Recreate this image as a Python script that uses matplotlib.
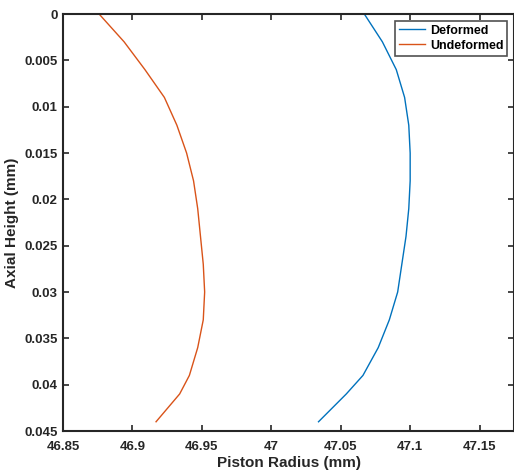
import matplotlib
matplotlib.use("Agg")
import matplotlib.pyplot as plt
from matplotlib.ticker import FuncFormatter

plt.rcParams['font.family'] = ['Liberation Sans', 'DejaVu Sans']
plt.rcParams['font.weight'] = 'bold'

# axial height (mm) and piston radius (mm)
height = [0, 0.003, 0.006, 0.009, 0.012, 0.015, 0.018, 0.021, 0.024,
          0.027, 0.030, 0.033, 0.036, 0.039, 0.041, 0.044]
deformed = [47.067, 47.080, 47.090, 47.096, 47.099, 47.100, 47.100, 47.099,
            47.097, 47.094, 47.091, 47.085, 47.077, 47.066, 47.054, 47.034]
undeformed = [46.876, 46.894, 46.909, 46.923, 46.932, 46.939, 46.944, 46.947,
              46.949, 46.951, 46.952, 46.951, 46.947, 46.941, 46.934, 46.917]

xticks = [46.85, 46.9, 46.95, 47, 47.05, 47.1, 47.15]
yticks = [0, 0.005, 0.01, 0.015, 0.02, 0.025, 0.03, 0.035, 0.04, 0.045]

fig = plt.figure(figsize=(5.14, 4.76), dpi=100)
ax = fig.add_axes([0.1226, 0.0945, 0.878, 0.876])

ax.plot(deformed, height, color='#0072BD', lw=1.0, label='Deformed')
ax.plot(undeformed, height, color='#D95319', lw=1.0, label='Undeformed')

ax.set_xlim(46.85, 47.175)
ax.set_ylim(0.045, 0)
ax.set_xticks(xticks)
ax.set_yticks(yticks)
ax.xaxis.set_major_formatter(FuncFormatter(lambda v, p: f'{v:g}'))
ax.yaxis.set_major_formatter(FuncFormatter(lambda v, p: f'{v:g}'))

ax.tick_params(direction='in', top=True, right=True, length=4, width=1.2,
               labelsize=9.5, colors='#262626')
ax.tick_params(axis='x', pad=7)
ax.tick_params(axis='y', pad=4)
for s in ax.spines.values():
    s.set_linewidth(1.5)
    s.set_color('#262626')

ax.set_xlabel('Piston Radius (mm)', fontsize=11, fontweight='bold', color='#262626', labelpad=2)
ax.set_ylabel('Axial Height (mm)', fontsize=11, fontweight='bold', color='#262626', labelpad=4)

leg = ax.legend(loc='upper right', fontsize=9, frameon=True, fancybox=False,
                handlelength=2.1, handletextpad=0.4, borderpad=0.3,
                labelspacing=0.25, borderaxespad=0.55)
leg.get_frame().set_edgecolor('#262626')
leg.get_frame().set_linewidth(1.2)

fig.savefig('out.png', dpi=100)
